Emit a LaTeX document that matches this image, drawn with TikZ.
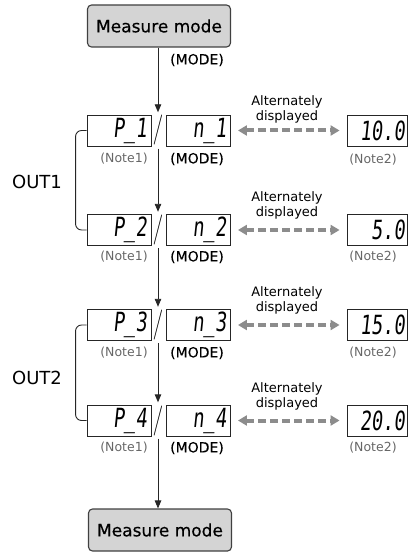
\documentclass[tikz,border=0pt]{standalone}
\usepackage{fontspec}
\newfontfamily\dvs{DejaVu Sans}
\newfontfamily\segf[FakeSlant=0.15]{DejaVu Sans Mono}
\newfontfamily\medf[FakeBold=0.4]{DejaVu Sans}
\newfontfamily\modf[FakeBold=0.15]{DejaVu Sans}
\usetikzlibrary{arrows.meta}
\tikzset{
  mbox/.style={draw=black!75, fill=black!17, line width=1.1pt, rounded corners=4pt,
    minimum width=143pt, minimum height=42pt, inner sep=0pt, font=\medf\fontsize{17}{20}\selectfont},
  disp/.style={draw=black!85, fill=white, line width=0.9pt, minimum height=31pt,
    inner ysep=0pt, align=right, font=\segf\fontsize{22}{24}\selectfont},
  pdisp/.style={disp, text width=56pt, inner xsep=4pt},
  vdisp/.style={disp, text width=56pt, inner xsep=2pt},
  slashn/.style={inner sep=0pt, minimum height=36pt, font=\rmfamily\fontsize{30}{30}\selectfont},
  arr/.style={-{Triangle[length=8pt,width=6.5pt]}, line width=0.9pt, draw=black!85},
  alt/.style={{Triangle[length=9pt,width=10pt]}-{Triangle[length=9pt,width=10pt]},
    line width=4pt, draw=black!45, dash pattern=on 8pt off 4pt, shorten <=7pt, shorten >=7pt},
  note/.style={font=\dvs\fontsize{12.5}{14}\selectfont, text=black!60, inner sep=0pt},
  model/.style={font=\modf\fontsize{14}{16}\selectfont, inner sep=0pt},
  altl/.style={align=center, font=\dvs\fontsize{13}{15}\selectfont, inner sep=0pt},
  outl/.style={font=\dvs\fontsize{18}{20}\selectfont, inner sep=0pt},
  brk/.style={line width=0.9pt, draw=black!85, rounded corners=6pt}
}
\newcommand{\sg}[1]{\scalebox{0.85}[1.2]{#1}}
\begin{document}
\begin{tikzpicture}[x=1pt,y=-1pt]
\useasboundingbox (0,0) rectangle (410,553);
% top
\node[mbox] (top) at (159,26) {Measure mode};
\node[model] (m0) at (197,60) {(MODE)};
% rows
\node[pdisp] (p1) at (119,130.5) {\sg{P\_1}};
\node[slashn] (s1) at (158,130.5) {\scalebox{0.75}[1]{/}};
\node[pdisp] (n1) at (198.5,130.5) {\sg{n\_1}};
\node[vdisp] (v1) at (377,130.5) {\sg{10.0}};

\node[pdisp] (p2) at (119,230) {\sg{P\_2}};
\node[slashn] (s2) at (158,230) {\scalebox{0.75}[1]{/}};
\node[pdisp] (n2) at (198.5,230) {\sg{n\_2}};
\node[vdisp] (v2) at (377,230) {\sg{5.0}};

\node[pdisp] (p3) at (119,325) {\sg{P\_3}};
\node[slashn] (s3) at (158,325) {\scalebox{0.75}[1]{/}};
\node[pdisp] (n3) at (198.5,325) {\sg{n\_3}};
\node[vdisp] (v3) at (377,325) {\sg{15.0}};

\node[pdisp] (p4) at (119,420.5) {\sg{P\_4}};
\node[slashn] (s4) at (158,420.5) {\scalebox{0.75}[1]{/}};
\node[pdisp] (n4) at (198.5,420.5) {\sg{n\_4}};
\node[vdisp] (v4) at (377,420.5) {\sg{20.0}};

% notes
\node[note] (a1) at (124,159) {(Note1)};
\node[model] (b1) at (197,159) {(MODE)};
\node[note] (c1) at (373,160) {(Note2)};
\node[note] (a2) at (124,257) {(Note1)};
\node[model] (b2) at (197,257) {(MODE)};
\node[note] (c2) at (373,257) {(Note2)};
\node[note] (a3) at (124,353) {(Note1)};
\node[model] (b3) at (197,353) {(MODE)};
\node[note] (c3) at (373,353) {(Note2)};
\node[note] (a4) at (124,448) {(Note1)};
\node[model] (b4) at (197,448) {(MODE)};
\node[note] (c4) at (373,448) {(Note2)};

% alternately labels
\node[altl] (l1) at (287,109) {Alternately\\displayed};
\node[altl] (l2) at (287,205) {Alternately\\displayed};
\node[altl] (l3) at (287,300) {Alternately\\displayed};
\node[altl] (l4) at (287,396) {Alternately\\displayed};

% bottom
\node[mbox] (bot) at (160,530) {Measure mode};

% OUT labels
\node[outl] (o1) at (37,182) {OUT1};
\node[outl] (o2) at (37,378) {OUT2};

% arrows
\draw[arr] (top.south -| s1.north) -- (s1.north);
\draw[arr] (s1.south) -- (s2.north);
\draw[arr] (s2.south) -- (s3.north);
\draw[arr] (s3.south) -- (s4.north);
\draw[arr] (s4.south) -- (bot.north -| s4.south);

% alternate arrows
\draw[alt] (n1.east) -- (v1.west);
\draw[alt] (n2.east) -- (v2.west);
\draw[alt] (n3.east) -- (v3.west);
\draw[alt] (n4.east) -- (v4.west);

% brackets
\draw[brk] (p1.west) -- ++(-11,0) -- ([xshift=-11pt]p2.west) -- (p2.west);
\draw[brk] (p3.west) -- ++(-11,0) -- ([xshift=-11pt]p4.west) -- (p4.west);
\end{tikzpicture}
\end{document}
